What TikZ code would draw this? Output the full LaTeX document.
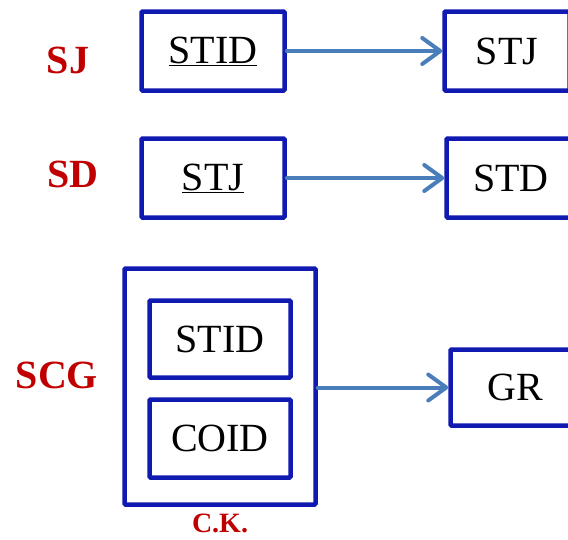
\documentclass[tikz,border=0pt]{standalone}
\usepackage{fontspec}
\setmainfont{Liberation Serif}
\usetikzlibrary{arrows.meta}

\definecolor{boxblue}{RGB}{16,26,176}
\definecolor{arrowblue}{RGB}{74,126,187}
\definecolor{labred}{RGB}{192,0,0}

\tikzset{
  attr/.style={draw=boxblue, line width=4.5pt, rounded corners=1pt, inner sep=0pt,
    font=\fontsize{40}{48}\selectfont},
  schema/.style={text=labred, font=\fontsize{40}{48}\selectfont\bfseries},
  fd/.style={draw=arrowblue, line width=4pt, line cap=round,
    -{Straight Barb[length=18pt,width=26pt,round]}}
}

\begin{document}
\begin{tikzpicture}[x=1pt,y=-1pt]
  \useasboundingbox (0,0) rectangle (568,539);
  \clip (0,0) rectangle (568,539);

	%left side boxes
 \def\w{143};
 \def\h{79};
    \foreach \y/\txt/\name in {51/STID/lj, 178/STJ/ld}{
         \node[attr, minimum width=\w, minimum height=\h] (\name) at (213,\y) {\underline{\txt}};
    }

	%right side boxes
    \node[attr, minimum width=125, minimum height=79] (rj) at (507,51) {STJ};
    \node[attr, minimum width=129, minimum height=79] (rd) at (511,178) {STD};
    \node[attr, minimum width=129, minimum height=76] (rg) at (515,387.5) {GR};

	%composite key
    \node[attr, minimum width=191, minimum height=236] (ck) at (220,386.5) {};
    \node[attr, minimum width=141, minimum height=77] (kst) at (220,339) {STID};
    \node[attr, minimum width=141, minimum height=78] (kco) at (220,438.5) {COID};

	%schema names
    \node[schema] (sj) at (68,60) {SJ};
    \node[schema] (sd) at (73,174) {SD};
    \node[schema] (scg) at (57,375) {SCG};
    \node[schema, font=\fontsize{28}{32}\selectfont\bfseries, anchor=base, inner sep=0pt] (cklab) at (220,532) {C.K.};

	%dependencies
    \draw[fd] (lj.east) -- (rj.west);
    \draw[fd] (ld.east) -- (rd.west);
    \draw[fd] (ck.east |- rg.west) -- (rg.west);

\end{tikzpicture}
\end{document}
